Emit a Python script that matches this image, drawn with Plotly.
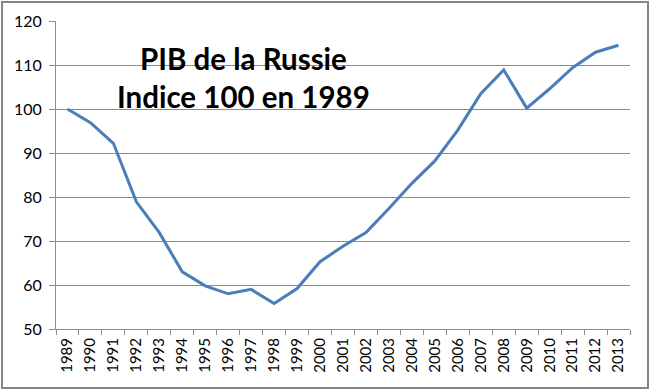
import plotly.graph_objects as go

years = [str(y) for y in range(1989, 2014)]
gdp_index = [100, 96.9, 92.2, 78.9, 71.9, 63.0, 59.8, 58.0, 59.0, 55.8, 59.2,
             65.3, 68.8, 71.9, 77.4, 83.1, 88.2, 95.2, 103.5, 108.9, 100.2,
             104.6, 109.4, 112.9, 114.5]
y_ticks = [50, 60, 70, 80, 90, 100, 110, 120]
title_lines = ["PIB de la Russie", "Indice 100 en 1989"]

W, H = 650, 390
ml, mr, mt, mb = 56, 20, 21, 61
pw, ph = W - ml - mr, H - mt - mb

fig = go.Figure()
fig.add_trace(go.Scatter(
    x=years, y=gdp_index, mode="lines",
    line=dict(color="#4A7EBB", width=3),
    hoverinfo="x+y",
))

grey = "#8C8C8C"
fig.update_layout(
    width=W, height=H,
    margin=dict(l=ml, r=mr, t=mt, b=mb, autoexpand=False),
    paper_bgcolor="white", plot_bgcolor="white",
    showlegend=False,
    font=dict(family="Lato, Calibri, sans-serif", size=15, color="black"),
    xaxis=dict(
        type="category", tickson="boundaries", showgrid=False,
        showline=True, linecolor=grey, linewidth=1,
        ticks="outside", ticklen=5, tickcolor=grey,
        tickangle=-90, tickfont=dict(size=15), ticklabelstandoff=2,
        range=[-0.5, len(years) - 0.5],
    ),
    yaxis=dict(
        range=[50, 120], tickvals=y_ticks,
        showgrid=True, gridcolor=grey, gridwidth=1,
        showline=True, linecolor=grey, linewidth=1,
        ticks="outside", ticklen=6, tickcolor=grey,
        tickfont=dict(size=16), zeroline=False, ticklabelstandoff=4,
    ),
    annotations=[dict(
        text="<b>" + "<br>".join(title_lines) + "</b>",
        xref="paper", yref="paper",
        x=(243 - ml) / pw, y=1 - (77 - mt) / ph,
        xanchor="center", yanchor="middle", showarrow=False,
        font=dict(family="Lato, Calibri, sans-serif", size=29.5, color="black"),
    )],
    shapes=[dict(
        type="rect", xref="paper", yref="paper",
        x0=(2 - ml) / pw, x1=(W - 2 - ml) / pw,
        y0=1 - (H - 2 - mt) / ph, y1=1 - (2 - mt) / ph,
        line=dict(color="#868686", width=2), fillcolor="rgba(0,0,0,0)",
        layer="below",
    )],
)

fig.write_html("out.html", config={"displayModeBar": False},
               post_script="document.body.style.margin='0';document.body.style.padding='0';")
